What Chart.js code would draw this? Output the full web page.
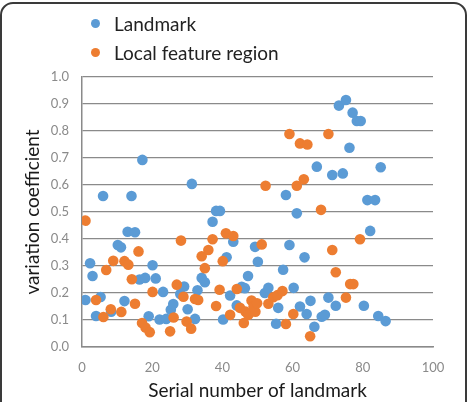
<!DOCTYPE html>
<html>
<head>
<meta charset="utf-8">
<script src="https://cdn.jsdelivr.net/npm/chart.js@4/dist/chart.umd.min.js"></script>
<style>
  html, body { margin: 0; padding: 0; background: #fff; }
  #wrap { position: relative; width: 467px; height: 402px; overflow: hidden; font-family: Lato, "Open Sans", sans-serif; }
  #frame { position: absolute; left: 0px; top: 2px; width: 463px; height: 430px; border: 2px solid #3a3a3a; border-radius: 13px; pointer-events: none; }
  #legend { position: absolute; left: 91px; top: 9px; font-size: 19px; color: #222; line-height: 29px; }
  #legend .item { display: flex; align-items: center; }
  #legend .dot { width: 9px; height: 9px; border-radius: 50%; display: inline-block; margin-right: 14px; }
  canvas { position: absolute; left: 0; top: 0; }
</style>
</head>
<body>
<div id="wrap">
  <canvas id="c" width="467" height="402"></canvas>
  <div id="legend"></div>
  <div id="frame"></div>
</div>
<script>
// ---- data ----
const seriesNames = ["Landmark", "Local feature region"];
const seriesColors = ["#5B9BD5", "#ED7D31"];

const landmarkX = [1, 2.3, 3, 4, 5.3, 6, 8.3, 10.2, 11.1, 12.1, 13, 14.1, 15.1, 16.4, 17.2, 18, 19, 20.1, 21, 22.1, 23.1, 24, 25.3, 26, 28, 29.1, 30.1, 31.3, 32.2, 32.9, 34.1, 35, 37.2, 38.2, 39.3, 40.2, 41.2, 42.2, 43.1, 44.1, 45.5, 46.4, 47.3, 49.3, 50.1, 52.1, 53.1, 55.3, 55.9, 57.3, 58.1, 59.1, 60.3, 61.2, 62.1, 63.4, 64, 65.1, 66.2, 66.9, 68.3, 69.2, 70.2, 71.3, 72.3, 73.2, 74.3, 75.2, 76.2, 77.1, 78.3, 79.4, 80.3, 81.3, 82.1, 83.5, 84.4, 85.1, 86.5];
const landmarkY = [0.174, 0.31, 0.263, 0.115, 0.185, 0.559, 0.131, 0.378, 0.369, 0.17, 0.427, 0.559, 0.425, 0.25, 0.693, 0.256, 0.114, 0.303, 0.254, 0.102, 0.204, 0.104, 0.138, 0.159, 0.196, 0.224, 0.14, 0.604, 0.104, 0.21, 0.256, 0.24, 0.464, 0.504, 0.504, 0.102, 0.332, 0.191, 0.39, 0.154, 0.223, 0.218, 0.263, 0.371, 0.316, 0.2, 0.219, 0.086, 0.145, 0.286, 0.563, 0.378, 0.219, 0.495, 0.15, 0.332, 0.122, 0.171, 0.075, 0.668, 0.112, 0.119, 0.183, 0.637, 0.153, 0.894, 0.643, 0.915, 0.738, 0.868, 0.837, 0.837, 0.153, 0.544, 0.43, 0.544, 0.115, 0.666, 0.096];

const regionX = [1, 4, 6.1, 6.9, 8.2, 8.9, 11.2, 12.1, 13.2, 14.2, 15.1, 16.1, 17.1, 18.1, 19.3, 20.1, 25.1, 26.1, 27, 28.2, 28.9, 29.8, 31.1, 32.2, 33.1, 34.1, 35, 36, 37.2, 38.2, 39.2, 40.1, 41, 42.2, 43.1, 44.1, 45, 46.1, 46.6, 47.4, 48.3, 48.9, 49.4, 49.9, 51.2, 52.3, 53.1, 54.5, 55.7, 57.1, 58.1, 59.1, 60.2, 61.2, 62.1, 63.2, 64.2, 65, 68.1, 70.2, 71.3, 72.3, 75.2, 76.4, 77.3, 79.2];
const regionY = [0.468, 0.174, 0.111, 0.285, 0.14, 0.319, 0.13, 0.318, 0.305, 0.251, 0.16, 0.354, 0.089, 0.072, 0.055, 0.204, 0.058, 0.109, 0.231, 0.394, 0.186, 0.094, 0.068, 0.178, 0.174, 0.336, 0.292, 0.359, 0.399, 0.152, 0.212, 0.318, 0.421, 0.119, 0.411, 0.215, 0.145, 0.089, 0.131, 0.119, 0.172, 0.151, 0.131, 0.162, 0.38, 0.597, 0.16, 0.184, 0.192, 0.207, 0.085, 0.789, 0.122, 0.597, 0.754, 0.621, 0.75, 0.04, 0.508, 0.789, 0.359, 0.277, 0.183, 0.233, 0.233, 0.399];

const xTicks = [0, 20, 40, 60, 80, 100];
const yTicks = [0, 0.1, 0.2, 0.3, 0.4, 0.5, 0.6, 0.7, 0.8, 0.9, 1.0];
const xTitle = "Serial number of landmark";
const yTitle = "variation coefficient";

// ---- legend (HTML) ----
const legendEl = document.getElementById('legend');
seriesNames.forEach((n, i) => {
  const d = document.createElement('div');
  d.className = 'item';
  d.innerHTML = '<span class="dot" style="background:' + seriesColors[i] + '"></span><span>' + n + '</span>';
  legendEl.appendChild(d);
});

function pts(xs, ys) { return xs.map((x, i) => ({ x: x, y: ys[i] })); }

const gridColor = '#8a8a8a';
const tickColor = '#8a8a8a';
const fontFam = 'Lato, "Open Sans", sans-serif';

new Chart(document.getElementById('c'), {
  type: 'scatter',
  data: {
    datasets: [
      { label: seriesNames[0], data: pts(landmarkX, landmarkY), backgroundColor: seriesColors[0], borderColor: seriesColors[0], pointRadius: 5.3, pointBorderWidth: 0, order: 1 },
      { label: seriesNames[1], data: pts(regionX, regionY), backgroundColor: seriesColors[1], borderColor: seriesColors[1], pointRadius: 5.3, pointBorderWidth: 0, order: 0 }
    ]
  },
  options: {
    responsive: false,
    animation: false,
    events: [],
    layout: { padding: { left: 0, right: 34, top: 77, bottom: 0 } },
    plugins: { legend: { display: false }, tooltip: { enabled: false } },
    scales: {
      x: {
        type: 'linear', min: 0, max: 100,
        afterBuildTicks: s => { s.ticks = xTicks.map(v => ({ value: v })); },
        afterFit: s => { s.height = 55; },
        grid: { display: false, drawTicks: false },
        border: { display: true, color: gridColor, width: 1.5 },
        ticks: { color: tickColor, font: { family: fontFam, size: 13 }, padding: 13, maxRotation: 0 },
        title: { display: true, text: xTitle, color: '#1a1a1a', font: { family: fontFam, size: 19 }, padding: { top: 0, bottom: 0 } }
      },
      y: {
        type: 'linear', min: 0, max: 1,
        afterBuildTicks: s => { s.ticks = yTicks.map(v => ({ value: v })); },
        afterFit: s => { s.width = 82; },
        grid: { color: gridColor, lineWidth: 1.2, drawTicks: false },
        border: { display: true, color: gridColor, width: 1.5 },
        ticks: { color: tickColor, font: { family: fontFam, size: 13 }, padding: 13, callback: v => v.toFixed(1) },
        title: { display: true, text: yTitle, color: '#1a1a1a', font: { family: fontFam, size: 19 }, padding: { top: 21, bottom: 0 } }
      }
    }
  }
});
</script>
</body>
</html>
